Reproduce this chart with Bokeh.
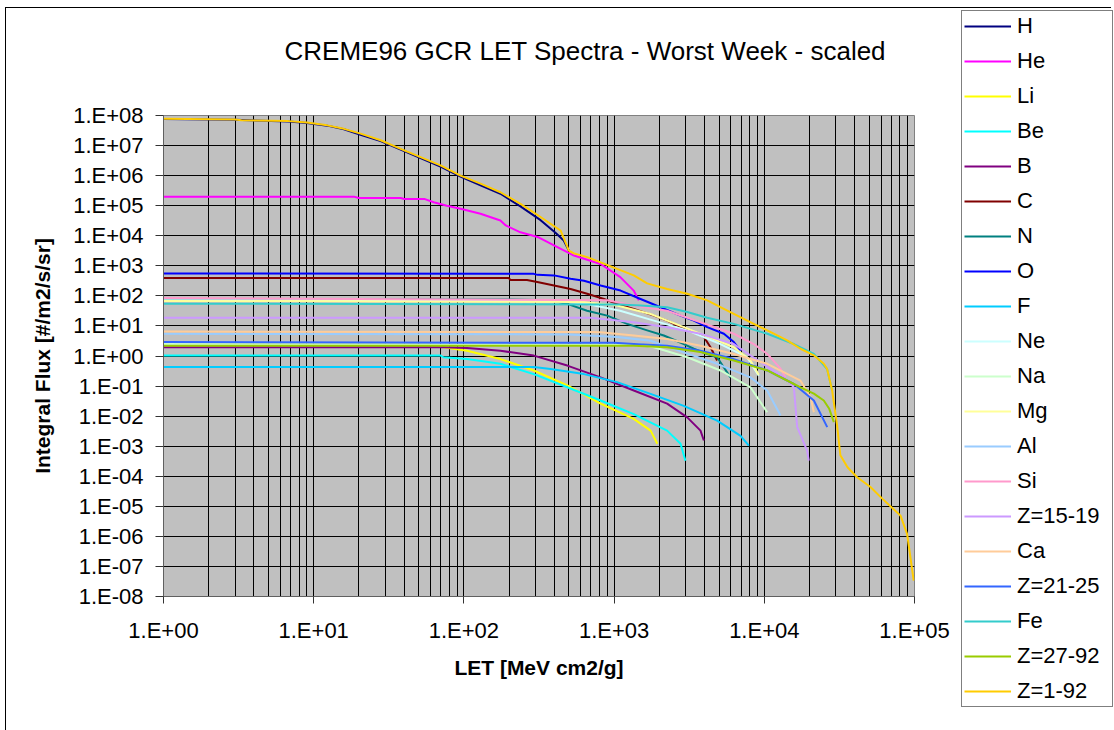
from bokeh.plotting import figure
from bokeh.models import (Range1d, FixedTicker, CustomJSTickFormatter, Legend, LegendItem, LogAxis)
from bokeh.embed import file_html
from bokeh.resources import INLINE

# ---------------- data ----------------
series_names = ["H", "He", "Li", "Be", "B", "C", "N", "O", "F", "Ne", "Na", "Mg",
                "Al", "Si", "Z=15-19", "Ca", "Z=21-25", "Fe", "Z=27-92", "Z=1-92"]

series_colors = ["#000080", "#FF00FF", "#FFFF00", "#00FFFF", "#800080", "#800000",
                 "#008080", "#0000FF", "#00CCFF", "#CCFFFF", "#CCFFCC", "#FFFF99",
                 "#99CCFF", "#FF99CC", "#CC99FF", "#FFCC99", "#3366FF", "#33CCCC",
                 "#99CC00", "#FFCC00"]

let_H = [1, 3.0, 6.8, 9.0, 12.3, 15.9, 20.5, 27.9, 37.9, 51.4, 69.8, 94.9, 129, 175, 238, 324, 407, 462, 500]
flux_H = [7.6e7, 7.2e7, 6.3e7, 5.6e7, 4.6e7, 3.5e7, 2.3e7, 1.4e7, 7.4e6, 3.8e6, 2.0e6, 9.3e5, 4.8e5,
          2.5e5, 9.5e4, 3.3e4, 1.26e4, 6.9e3, 3.2e3]

let_He = [1, 18.5, 20, 38, 40, 55, 63, 77, 95, 129, 175, 190, 238, 314, 398, 540, 813, 1100, 1350, 1460]
flux_He = [2.0e5, 2.0e5, 1.8e5, 1.8e5, 1.66e5, 1.66e5, 1.3e5, 1.0e5, 7.9e4, 5.4e4, 3.2e4, 2.2e4, 1.3e4,
           8.9e3, 4.8e3, 2.2e3, 1.15e3, 420, 150, 71]

let_Li = [1, 60, 73, 105, 175, 292, 488, 813, 1352, 1750, 1940]
flux_Li = [2.5, 2.4, 1.95, 1.5, 0.79, 0.33, 0.105, 0.026, 8.1e-3, 3.3e-3, 1.2e-3]

let_Be = [1, 70, 73, 105, 175, 292, 488, 813, 1352, 2254, 2770, 2985]
flux_Be = [1.04, 1.04, 0.91, 0.79, 0.55, 0.25, 0.091, 0.033, 0.0117, 3.3e-3, 1.2e-3, 3.3e-4]

let_B = [1, 73, 105, 175, 292, 488, 813, 1352, 2254, 3070, 3760, 3960]
flux_B = [1.95, 1.95, 1.86, 1.5, 1.03, 0.48, 0.195, 0.071, 0.026, 9.1e-3, 3.3e-3, 1.55e-3]

let_C = [1, 199, 204, 263, 308, 398, 513, 662, 857, 1047, 1352, 1841, 2254, 2767, 3396, 3963, 4385, 4853]
flux_C = [390, 390, 340, 340, 290, 220, 170, 117, 79, 54, 37, 22, 15, 9.1, 6.2, 4.3, 1.95, 0.71]

let_N = [1, 204, 378, 488, 661, 900, 1222, 1660, 2143, 2911, 3396, 4169, 4853, 5950]
flux_N = [76, 76, 71, 54, 32, 22, 11.7, 7.1, 4.8, 2.5, 1.74, 1.17, 0.91, 0.195]

let_O = [1, 292, 309, 398, 513, 630, 813, 1104, 1500, 2037, 2767, 3396, 4169, 5383, 6266, 6950]
flux_O = [560, 540, 500, 480, 370, 320, 220, 150, 79, 42, 22, 15, 9.1, 5.5, 2.9, 1.5]

let_F = [1, 292, 378, 630, 1047, 1750, 2911, 4853, 6950, 7890]
flux_F = [0.43, 0.43, 0.37, 0.25, 0.135, 0.055, 0.022, 7.1e-3, 2.2e-3, 1.05e-3]

let_Ne = [1, 378, 661, 1096, 1841, 3069, 5105, 7690, 9180]
flux_Ne = [71, 71, 54, 32, 15, 7.1, 2.5, 0.91, 0.22]

let_Na = [1, 1500, 1841, 3069, 5105, 8091, 10450]
flux_Na = [2.5, 2.4, 1.95, 0.91, 0.33, 0.091, 0.0135]

let_Mg = [1, 630, 1047, 1750, 2911, 4853, 6266, 8091, 9180]
flux_Mg = [68, 63, 48, 25, 9.1, 3.3, 1.95, 0.71, 0.24]

let_Al = [1, 500, 1047, 1750, 2911, 4853, 8091, 10447, 12830]
flux_Al = [5.5, 5.2, 4.3, 3.2, 1.32, 0.55, 0.195, 0.071, 0.0105]

let_Si = [1, 900, 1352, 2254, 3758, 6266, 8511, 10471, 12823, 13840]
flux_Si = [85, 71, 48, 32, 13.2, 5.5, 2.5, 1.17, 0.38, 0.195]

let_Z15 = [1, 700, 813, 1352, 2254, 3758, 6266, 9440, 13490, 15740, 16560, 19280, 19770]
flux_Z15 = [18.6, 18.6, 17.4, 13.2, 9.1, 5.5, 2.5, 0.62, 0.195, 0.091, 4.3e-3, 7.1e-4, 3.3e-4]

let_Ca = [1, 700, 813, 1352, 2254, 3758, 6266, 10471, 17418, 20320, 21380]
flux_Ca = [6.5, 6.3, 6.2, 4.8, 3.7, 2.2, 1.17, 0.55, 0.151, 0.043, 0.0135]

let_Z21 = [1, 1000, 1352, 2254, 3758, 6266, 10471, 15740, 21380, 26240]
flux_Z21 = [2.9, 2.75, 2.5, 2.2, 1.5, 0.79, 0.33, 0.117, 0.033, 4.3e-3]

let_Fe = [1, 1100, 1500, 2254, 3069, 4169, 6266, 10471, 15740, 21380, 26180, 28300]
flux_Fe = [55, 52, 48, 42, 29, 18.6, 11.7, 5.5, 2.5, 1.17, 0.37, 0.071]

let_Z27 = [1, 1000, 1352, 2254, 3758, 6266, 10471, 15740, 17418, 21380, 24890, 27000, 29040]
flux_Z27 = [2.2, 2.2, 2.2, 1.95, 1.35, 0.71, 0.33, 0.117, 0.091, 0.056, 0.033, 0.018, 6.3e-3]

let_Z1 = [1, 3.0, 3.3, 6.8, 9.0, 12.3, 15.9, 20.5, 27.9, 37.9, 51.4, 69.8, 94.9, 129, 175, 238, 324,
          440, 500, 540, 662, 813, 1047, 1352, 1660, 2254, 3069, 4169, 5105, 6266, 8511, 10471,
          14191, 17418, 21380, 24890, 26200, 28300, 30500, 32100, 35800, 41500, 50900, 61000,
          80700, 89300, 98800]
flux_Z1 = [7.8e7, 7.4e7, 6.9e7, 6.5e7, 5.8e7, 4.7e7, 3.6e7, 2.5e7, 1.5e7, 7.8e6, 4.1e6, 2.2e6,
           1.0e6, 5.4e5, 2.8e5, 1.15e5, 4.2e4, 1.5e4, 3.2e3, 2.6e3, 1.95e3, 1.3e3, 790, 480,
           260, 170, 117, 71, 42, 25, 11.7, 7.1, 3.3, 1.74, 1.05, 0.55, 0.37, 0.071, 5.0e-3,
           5.0e-4, 2.0e-4, 9.3e-5, 4.4e-5, 1.8e-5, 4.9e-6, 1.2e-6, 3.4e-8]

series_let = [let_H, let_He, let_Li, let_Be, let_B, let_C, let_N, let_O, let_F, let_Ne, let_Na,
              let_Mg, let_Al, let_Si, let_Z15, let_Ca, let_Z21, let_Fe, let_Z27, let_Z1]
series_flux = [flux_H, flux_He, flux_Li, flux_Be, flux_B, flux_C, flux_N, flux_O, flux_F, flux_Ne,
               flux_Na, flux_Mg, flux_Al, flux_Si, flux_Z15, flux_Ca, flux_Z21, flux_Fe, flux_Z27,
               flux_Z1]

x_ticks = [1, 10, 100, 1000, 10000, 100000]
y_ticks = [10.0 ** e for e in range(-8, 9)]
x_minor = [m * d for d in [1, 10, 100, 1000, 10000] for m in range(2, 10)]

title_text = "CREME96 GCR LET Spectra - Worst Week - scaled"
x_title = "LET [MeV cm2/g]"
y_title = "Integral Flux [#/m2/s/sr]"

# ---------------- figure ----------------
FONT = "Liberation Sans"

p = figure(width=None, height=None, frame_width=751, frame_height=481,
           x_axis_type="log", y_axis_type="log",
           x_range=Range1d(1, 1e5), y_range=Range1d(1e-8, 1e8),
           output_backend="svg", toolbar_location=None,
           min_border_left=163, min_border_right=200, min_border_top=115, min_border_bottom=134,
           title=title_text)

xax = p.below[0]
yax = p.left[0]

p.background_fill_color = "#C0C0C0"
p.border_fill_color = "white"
p.border_fill_alpha = 0.0
p.outline_line_color = "#808080"
# outer chart-area frame (left and top edges), painted behind the canvas
p.styles = {
    "background": ("linear-gradient(#000,#000) 5px 7px / 1px 900px no-repeat, "
                   "linear-gradient(#000,#000) 5px 7px / 1106px 1px no-repeat, #ffffff"),
}

p.title.text_font = FONT
p.title.text_font_size = "26px"
p.title.text_font_style = "normal"
p.title.text_color = "black"
p.title.align = "left"
p.title.offset = 121
p.title.standoff = 0

# invisible spacer between the plot area and the title (tick drawn with no line, empty label)
blank = CustomJSTickFormatter(code='return "";')
top_spacer = LogAxis(ticker=FixedTicker(ticks=[10]), formatter=blank,
                     major_tick_out=50, major_tick_in=0, major_tick_line_color=None,
                     minor_tick_out=0, minor_tick_in=0, axis_line_color=None,
                     major_label_standoff=0, major_label_text_font_size="1px")
p.add_layout(top_spacer, "above")
p.above = [top_spacer] + [r for r in p.above if r is not top_spacer]

fmt = CustomJSTickFormatter(code="""
const e = Math.round(Math.log10(tick));
const a = Math.abs(e);
return "1.E" + (e < 0 ? "-" : "+") + (a < 10 ? "0" : "") + a;
""")

xax.ticker = FixedTicker(ticks=x_ticks, minor_ticks=x_minor)
yax.ticker = FixedTicker(ticks=y_ticks, minor_ticks=[])
for ax in (xax, yax):
    ax.formatter = fmt
    ax.major_label_text_font = FONT
    ax.major_label_text_font_size = "22px"
    ax.major_label_text_color = "black"
    ax.axis_line_color = "#606060"
    ax.major_tick_line_color = "#333333"
    ax.major_tick_in = 0
    ax.minor_tick_in = 0
    ax.minor_tick_out = 0
    ax.axis_label_text_font = FONT
    ax.axis_label_text_font_style = "bold"
    ax.axis_label_text_font_size = "21px"
    ax.axis_label_text_color = "black"

xax.major_tick_out = 7
xax.major_label_standoff = 14
xax.axis_label = x_title
xax.axis_label_standoff = 10

yax.major_tick_out = 8
yax.major_label_standoff = 12
yax.axis_label = y_title
yax.axis_label_standoff = 16

p.xgrid.ticker = xax.ticker
p.ygrid.ticker = yax.ticker
p.xgrid.grid_line_color = "black"
p.xgrid.grid_line_width = 1
p.xgrid.minor_grid_line_color = "black"
p.xgrid.minor_grid_line_width = 1
p.ygrid.grid_line_color = "black"
p.ygrid.grid_line_width = 1
p.ygrid.minor_grid_line_color = None

items = []
for name, color, xs, ys in zip(series_names, series_colors, series_let, series_flux):
    r = p.line(xs, ys, line_color=color, line_width=2, line_join="round")
    items.append(LegendItem(label=name, renderers=[r]))

legend = Legend(items=items, location=(47, -111), ncols=1,
                glyph_width=47, glyph_height=26, label_height=26, spacing=9,
                padding=2, label_standoff=6, label_width=93, margin=0,
                label_text_font=FONT, label_text_font_size="22px", label_text_color="black",
                border_line_color="black", border_line_width=1,
                background_fill_color="white", background_fill_alpha=1.0)
p.add_layout(legend, "right")

open("out.html", "w").write(file_html(p, INLINE))
